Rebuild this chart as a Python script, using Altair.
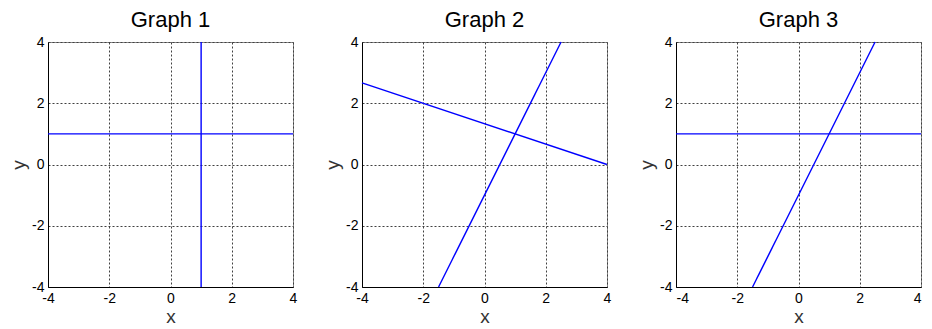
import altair as alt
import pandas as pd

graphs = ["Graph 1", "Graph 2", "Graph 3"]

# Line segments (endpoints)
line_panel = ["Graph 1", "Graph 1", "Graph 2", "Graph 2", "Graph 3", "Graph 3"]
x_start = [-4.0, 1.0, -4.0, -1.5, -4.0, -1.5]
x_end = [4.0, 1.0, 4.0, 2.5, 4.0, 2.5]
y_start = [1.0, -4.0, 2.667, -4.0, 1.0, -4.0]
y_end = [1.0, 4.0, 0.0, 4.0, 1.0, 4.0]

tick_values = [-4, -2, 0, 2, 4]

df = pd.DataFrame({
    "panel": line_panel,
    "x": x_start,
    "x2": x_end,
    "y": y_start,
    "y2": y_end,
})


def panel(name, last=False):
    d = df[df["panel"] == name]
    xs = alt.Scale(domain=[-4, 4], nice=False, zero=False)
    ys = alt.Scale(domain=[-4, 4], nice=False, zero=False)
    return (
        alt.Chart(d)
        .mark_rule(color="#0000ff", strokeWidth=1.4)
        .encode(
            x=alt.X("x:Q", scale=xs,
                    axis=alt.Axis(values=tick_values, title="x",
                                  labelExpr="toString(datum.value)",
                                  labelFlush=last)),
            x2="x2:Q",
            y=alt.Y("y:Q", scale=ys,
                    axis=alt.Axis(values=tick_values, title="y",
                                  labelExpr="toString(datum.value)")),
            y2="y2:Q",
        )
        .properties(width=245, height=245, title=name)
    )


chart = (
    alt.hconcat(panel(graphs[0]), panel(graphs[1]), panel(graphs[2], last=True),
                spacing=69, bounds="flush")
    .properties(padding={"left": 1, "top": 0, "right": 0, "bottom": 0})
    .configure_view(stroke="#8c8c8c", strokeWidth=1)
    .configure_axis(
        grid=True,
        gridColor="#404040",
        gridDash=[2, 2],
        gridOpacity=1,
        gridWidth=1,
        domain=True,
        domainColor="#000000",
        domainWidth=1,
        ticks=False,
        labelFont="Liberation Sans",
        labelFontSize=14,
        labelColor="#000000",
        labelPadding=4,
        titleFont="Liberation Sans",
        titleFontSize=19,
        titleFontWeight="normal",
        titleColor="#333333",
        titlePadding=3,
    )
    .configure_axisX(labelFlush=False, titlePadding=2)
    .configure_title(
        font="Liberation Sans",
        fontSize=22,
        fontWeight="normal",
        color="#000000",
        anchor="middle",
        offset=3,
    )
)

chart.save("out.html", embed_options={"renderer": "svg", "actions": False})
